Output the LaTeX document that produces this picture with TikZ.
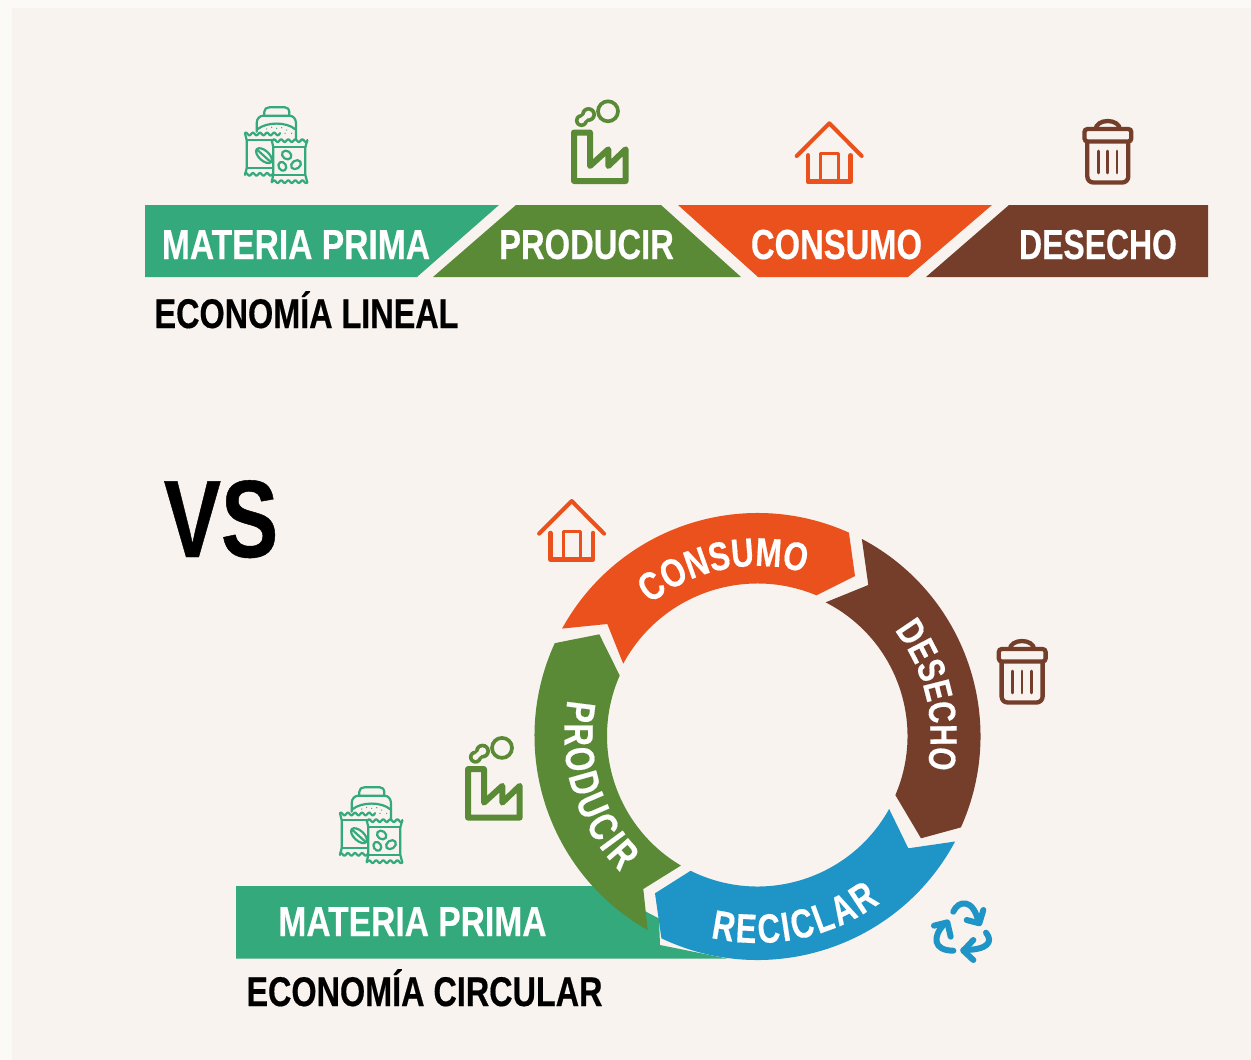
\documentclass[tikz,border=0pt]{standalone}
\usepackage{fontspec}
\setmainfont[FakeStretch=0.78,BoldFeatures={FakeBold=0.4}]{Liberation Sans}
\usetikzlibrary{decorations.text}
\definecolor{outerbg}{HTML}{FCFAF7}
\definecolor{innerbg}{HTML}{F8F3EE}
\definecolor{teal}{HTML}{34A97B}
\definecolor{leaf}{HTML}{5A8A35}
\definecolor{burnt}{HTML}{EA511C}
\definecolor{umber}{HTML}{753E2B}
\definecolor{sky}{HTML}{1F94C6}
\newcommand{\ringfont}[2]{\fontsize{#1}{#1}\selectfont\bfseries\addfontfeature{FakeStretch=#2}\color{white}}
\tikzset{
  x=1pt,y=1pt,
  barlabel/.style={anchor=base,text=white,font=\fontsize{42}{42}\selectfont\bfseries,inner sep=0pt},
  blacklabel/.style={anchor=base,text=black,font=\fontsize{41.5}{42}\selectfont\bfseries,inner sep=0pt},
  ringlabel/.style={decorate,decoration={text along path,text align=center}},
  houseicon/.pic={
    \draw[burnt,line width=4pt,line cap=round,line join=round] (-32.6,-32.7)--(0,0)--(32.4,-32.7);
    \draw[burnt,line width=4.5pt,line cap=round,line join=round] (-21.3,-32)--(-21.3,-58.4)--(21.4,-58.4)--(21.4,-32);
    \draw[burnt,line width=3.2pt,line join=round] (-8.6,-58.4)--(-8.6,-30.5)--(9,-30.5)--(9,-58.4);
  },
  trashicon/.pic={
    \draw[umber,line width=4.3pt] (-12,-10) arc[start angle=180,end angle=0,x radius=12,y radius=8];
    \draw[umber,line width=4.3pt,rounded corners=3pt] (-23.2,-10)rectangle(23.6,-22.5);
    \draw[umber,line width=4.3pt,rounded corners=6pt] (-20.4,-22.5)--(-20.4,-63.5)--(20.6,-63.5)--(20.6,-22.5);
    \foreach \bx in {-9.4,0,9.3} \draw[umber,line width=2.8pt,line cap=round] (\bx,-32)--(\bx,-54);
  },
  factoryicon/.pic={
    \draw[leaf,line width=3.7pt] (608,-111.3) circle[radius=10];
    \fill[leaf] (581.5,-120.5) circle[radius=6.6] (588.5,-114.5) circle[radius=7.5];
    \fill[innerbg] (581.5,-120.5) circle[radius=2.9] (588.5,-114.5) circle[radius=3.8];
    \draw[innerbg,line width=4.5pt] (581.5,-120.5)--(588.5,-114.5);
    \draw[leaf,line width=6pt,line join=round] (574,-132.5)--(590,-132.5)--(590,-166)--(608.3,-149.3)--(608.3,-166)--(625.7,-149.3)--(625.7,-181)--(574,-181)--cycle;
  },
  bagsicon/.pic={
    \begin{scope}[scale=1/3,line width=2.2pt,teal,line join=round,line cap=round]
      \draw (103,-77) -- (103,-65) .. controls (103,-56) and (110,-52) .. (118,-52) -- (165,-52) .. controls (173,-52) and (178,-58) .. (178,-65) -- (178,-77);
      \draw (80,-125) -- (80,-100) .. controls (80,-85) and (90,-77) .. (100,-77) -- (178,-77) .. controls (190,-77) and (198,-87) .. (198,-100) -- (198,-150);
      \draw (82,-118) .. controls (110,-95) and (170,-95) .. (196,-118);
      \foreach \dx/\dy in {110/117,125/112,140/115,155/113,170/120,185/130,165/130,150/128,135/127}
        \fill (\dx,-\dy) circle[radius=2];
      \draw plot[domain=45:150,samples=50] (\x,{-132+4*sin(\x*17)});
      \draw (45,-130)--(50,-150)--(50,-235)--(45,-255);
      \draw (50,-150)--(128,-150) (50,-235)--(128,-235);
      \draw plot[domain=45:128,samples=40] (\x,{-253+4*sin(\x*17)});
      \draw[rotate around={-42:(102,-197)}] (102,-197) ellipse[x radius=29,y radius=15];
      \draw (80,-178)--(120,-214);
      \draw plot[domain=125:232,samples=50] (\x,{-152+4*sin(\x*17)});
      \draw (125,-150)--(130,-172)--(130,-255)--(125,-275);
      \draw (232,-150)--(226,-172)--(226,-255)--(232,-278);
      \draw (130,-172)--(226,-172) (130,-255)--(226,-255);
      \draw plot[domain=125:232,samples=50] (\x,{-275+4*sin(\x*17)});
      \draw[rotate around={-35:(170,-195)}] (170,-195) ellipse[x radius=15,y radius=12];
      \draw[rotate around={-60:(157,-229)}] (157,-229) ellipse[x radius=14,y radius=11];
      \draw[rotate around={35:(198,-224)}] (198,-224) ellipse[x radius=16,y radius=12];
    \end{scope}
  }
}
\begin{document}
\begin{tikzpicture}
\useasboundingbox (0,0) rectangle (1251,-1060);
\fill[outerbg] (0,0) rectangle (1251,-1060);
\fill[innerbg] (12,-8) rectangle (1251,-1060);
% linear bar
\fill[teal] (145,-205)--(499,-205)--(417,-277)--(145,-277)--cycle;
\fill[leaf] (516,-205)--(661,-205)--(741,-277)--(433,-277)--cycle;
\fill[burnt] (678,-205)--(992,-205)--(908,-277)--(758,-277)--cycle;
\fill[umber] (1009,-205)--(1208,-205)--(1208,-277)--(926,-277)--cycle;
\node[barlabel] (lmat) at (296,-259) {\addfontfeature{FakeStretch=0.8}MATERIA PRIMA};
\node[barlabel] (lpro) at (586.5,-259) {PRODUCIR};
\node[barlabel] (lcon) at (836.5,-259) {CONSUMO};
\node[barlabel] (ldes) at (1098,-259) {\addfontfeature{FakeStretch=0.76}DESECHO};
\node[blacklabel] (ltitle) at (306.5,-328) {ECONOMÍA LINEAL};
\node[anchor=base,text=black,font=\fontsize{110}{110}\selectfont\bfseries,inner sep=0pt] (vs) at (221,-557) {VS};
% icons top
\pic at (230,-90) {bagsicon};
\pic at (0,0) {factoryicon};
\pic at (829.3,-123.3) {houseicon};
\pic at (1107.7,-119) {trashicon};
% icons bottom
\pic at (325,-770) {bagsicon};
\pic at (-106,-636.6) {factoryicon};
\pic at (571.7,-501) {houseicon};
\pic at (1022,-639) {trashicon};
% recycle
\begin{scope}[shift={(920,-890)},scale=1/3,sky,line width=6pt,line cap=round,line join=round]
  \draw (100,-65) .. controls (115,-30) and (160,-25) .. (175,-95);
  \draw (140,-90)--(178,-100)--(190,-60);
  \draw (198,-128) .. controls (220,-155) and (205,-180) .. (130,-180);
  \draw (160,-150)--(130,-182)--(160,-210);
  \draw (100,-182) .. controls (40,-182) and (35,-140) .. (75,-100);
  \draw (42,-107)--(82,-97)--(92,-140);
\end{scope}
% circular economy
\coordinate (c) at (757.5,-736);
\fill[teal] (236,-886)--(593,-886)--(646,-911.7)--(659,-918.5)--(660,-945)--(727,-958.5)--(236,-958.5)--cycle;
\node[barlabel] (cmat) at (412.5,-936) {\addfontfeature{FakeStretch=0.8}MATERIA PRIMA};
\node[blacklabel] (ctitle) at (424.5,-1006) {ECONOMÍA CIRCULAR};
% PRODUCIR arrow
\fill[leaf] ([shift={(c)}]155.4:223) arc[start angle=155.4,end angle=240.5,radius=223] -- (643.3,-889) -- ([shift={(c)}]239.4:150.5) arc[start angle=239.4,end angle=156.3,radius=150.5] -- (599.3,-634.3) -- cycle;
% CONSUMO arrow
\fill[burnt] ([shift={(c)}]151.2:223) arc[start angle=151.2,end angle=65.8,radius=223] -- (855,-576) -- ([shift={(c)}]67.3:152.5) arc[start angle=67.3,end angle=151.7,radius=152.5] -- (607.3,-624) -- cycle;
% DESECHO arrow
\fill[umber] ([shift={(c)}]62.1:223) arc[start angle=62.1,end angle=-24.2,radius=223] -- (921,-838.3) -- ([shift={(c)}]-23.2:150) arc[start angle=-23.2,end angle=63,radius=150] -- (868.3,-585) -- cycle;
% RECICLAR arrow
\fill[sky] ([shift={(c)}]-28.1:224) arc[start angle=-28.1,end angle=-115.4,radius=224] -- (655,-893.3) -- ([shift={(c)}]-116.4:150.5) arc[start angle=-116.4,end angle=-29,radius=150.5] -- (908.3,-848.3) -- cycle;
% ring texts
\path[ringlabel,decoration={text={|\ringfont{40}{0.785}|CONSUMO}}] ([shift={(c)}]151.5:170) arc[start angle=151.5,end angle=51.5,radius=170];
\path[ringlabel,decoration={text={|\ringfont{38}{0.78}|DESECHO}}] ([shift={(c)}]63.4:173) arc[start angle=63.4,end angle=-36.6,radius=173];
\path[ringlabel,decoration={text={|\ringfont{41}{0.76}|{R\kern2.5pt}{E\kern2.5pt}{C\kern2.5pt}{I\kern2.5pt}{C\kern2.5pt}{L\kern2.5pt}{A\kern2.5pt}R}}] ([shift={(c)}]-128.4:207) arc[start angle=-128.4,end angle=-28.4,radius=207];
\path[ringlabel,decoration={text={|\ringfont{41}{0.76}|{P\kern3pt}{R\kern3pt}{O\kern3pt}{D\kern3pt}{U\kern3pt}{C\kern3pt}{I\kern3pt}R}}] ([shift={(c)}]147:193) arc[start angle=147,end angle=247,radius=193];
\end{tikzpicture}
\end{document}
